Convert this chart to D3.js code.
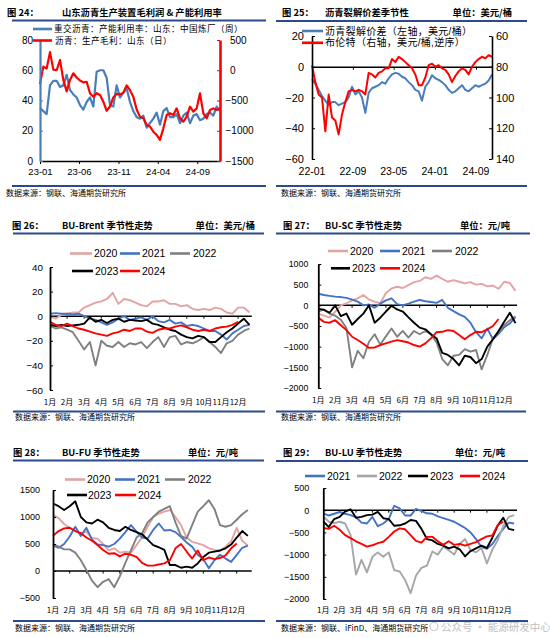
<!DOCTYPE html>
<html><head><meta charset="utf-8">
<script src="https://cdn.jsdelivr.net/npm/d3@7"></script>
<style>body{margin:0;background:#fff;}</style>
</head><body>
<svg id="chart" width="550" height="638"></svg>
<script>
// ---------------- DATA ----------------
const monthLabels = ["1月","2月","3月","4月","5月","6月","7月","8月","9月","10月","11月","12月"];

// Fig 24
const p24DateTicks = ["2023-01","2023-06","2023-11","2024-04","2024-09"];
const p24LeftTicks = [0,20,40,60,80];
const p24RightTicks = [-1500,-1000,-500,0,500];
const p24Util = [35,33,31,50,53,53,49,50,57,47,44,42,37,34,39,42,36,59,60,60,55,37,36,50,42,45,48,39,33,29,28,30,22,25,28,32,24,33,35,29,29,31,25,30,32,25,30,31,27,28,31,32,30,36,33];
const p24Margin = [-230,60,30,300,10,0,170,-160,-350,-160,-50,-120,-170,-200,-190,-380,-440,-380,-410,-520,-670,-600,-450,-390,-400,-370,-250,-330,-440,-650,-770,-795,-905,-930,-1015,-1070,-1150,-960,-740,-712,-740,-630,-795,-850,-767,-602,-685,-630,-382,-712,-795,-657,-630,-657,-630];

// Fig 25
const p25DateTicks = ["2022-01","2022-09","2023-05","2024-01","2024-09"];
const p25LeftTicks = [-60,-40,-20,0,20];
const p25RightTicks = [60,80,100,120,140];
const p25Crack = [-8,-11,-15,-19,-22,-25,-23,-23,-25,-24,-23,-20,-13,-18,-16,-20,-30,-17,-14,-13,-12,-10,-11,-7.5,-5,-4,-4.5,-6.5,-7.5,-10,-12,-15,-16,-22,-13,-10,-5.5,-7.5,-8.5,-10,-12,-15,-17,-16,-14,-12,-15,-16,-14,-12,-13,-12,-11,-9,-5];
const p25Brent = [79,90,98,100,122,98,113,115,124,111,103,96,95,96,95,96,98,84,85,87,84,83,81,81,75,77,73.5,75,77,79,81,85,92,92,87,79,78,80,79,81,82,85,90,86,83,81,82,85,80,77,75,73.5,74.5,72.5,73.5];

// Fig 26 BU-Brent (USD/bbl), one value every 1/3 month
const p26Ticks = [-60,-40,-20,0,20,40];
const p26_2020 = [0,-2,1,2,3,3,7,9,11,12,14,19,10,14,13,11,9,8,12,12,13,10,10,8,9,6,5,6,5,7,6,3,2,7,7,3];
const p26_2021 = [2,2.5,2,2,1.5,2,0,-2,-3,-5,-7,-5,-2,0,-3,-2,-1,-3,0,-4,-5,-3,-6,-5,-8,-7,-8,-10,-12,-12,-15,-19,-14,-11,-8,-7];
const p26_2022 = [-8,-10,-9,-11,-13,-20,-27,-21,-40,-20,-24,-25,-21,-25,-22,-23,-21,-26,-21,-17,-25,-17,-16,-23,-21,-22,-20,-17,-21,-25,-30,-22,-20,-15,-12,-10];
const p26_2023 = [-7,-8,-7,-8,-7.5,-7,-6,-1,-4.5,-3,-5.5,-3,-2,-4.5,-3,-3.5,-4,-3,-6,-7,-9,-11,-12,-15,-17,-18,-16,-17,-21,-21,-17,-13,-10,-6,-2,-7];
const p26_2024 = [-4.5,-7,-8,-6,-8,-10,-11,-12.5,-14,-15,-16,-14,-13,-11,-12,-10,-10,-12.5,-13.5,-11,-10,-10,-8.5,-7.5,-9,-11,-12,-11,-12,-10,-9,-8.5,-7,-4.5];

// Fig 27 BU-SC (CNY/t)
const p27Ticks = [-2000,-1500,-1000,-500,0,500,1000];
const p27_2020 = [-200,-250,-300,-150,0,50,120,170,250,140,90,50,300,410,450,420,490,560,590,680,640,720,640,570,610,570,530,560,500,520,460,480,400,570,540,350];
const p27_2021 = [280,250,230,210,200,180,140,90,0,20,-60,40,120,170,30,0,40,90,130,100,80,60,130,-60,-140,-220,-280,-420,-650,-800,-560,-820,-690,-530,-440,-280];
const p27_2022 = [-150,-100,-200,-250,-350,-550,-1500,-1100,-1280,-880,-700,-950,-750,-560,-760,-620,-780,-620,-700,-620,-700,-900,-1300,-1450,-1220,-1200,-1060,-1120,-1080,-1550,-1200,-800,-640,-480,-360,-270];
const p27_2023 = [-80,-110,-180,0,-260,-200,-470,-330,-200,0,-420,-300,-150,-10,-100,-150,-290,-420,-540,-580,-700,-800,-1150,-1200,-1300,-1450,-1220,-1250,-1400,-1300,-1000,-820,-620,-400,-180,-430];
const p27_2024 = [-300,-400,-420,-360,-480,-600,-760,-840,-930,-1030,-1020,-960,-920,-880,-840,-870,-900,-960,-1000,-920,-800,-650,-640,-600,-620,-720,-820,-720,-640,-650,-580,-500,-330];

// Fig 28 BU-FU (CNY/t)
const p28Ticks = [-500,0,500,1000,1500];
const p28_2020 = [1040,980,870,800,740,690,730,610,600,500,380,420,340,360,340,480,620,820,1000,1060,1100,1130,1000,850,620,540,510,480,420,390,370,450,550,800,560,470];
const p28_2021 = [480,430,500,640,820,650,800,580,490,480,450,500,600,720,850,730,620,600,760,880,750,760,720,630,530,450,300,220,50,200,300,230,170,300,430,470];
const p28_2022 = [500,450,400,400,340,200,20,-180,-300,-200,-150,-300,-100,150,380,620,700,900,1000,1100,1150,1200,900,650,600,850,1100,1200,1310,1150,850,820,850,950,1050,1130];
const p28_2023 = [1250,1200,1130,1200,1290,1000,900,880,950,900,800,760,740,820,760,720,680,580,480,440,390,110,110,60,80,60,140,260,340,360,380,420,490,620,740,650];
const p28_2024 = [650,740,790,800,740,700,620,560,480,390,320,330,270,320,300,260,150,100,100,120,140,200,420,500,360,230,380,200,250,220,240,290,420,510];

// Fig 29 BU-LU (CNY/t)
const p29Ticks = [-2000,-1500,-1000,-500,0,500];
const p29_2021 = [-70,-120,-80,-40,-80,-110,-160,-280,-300,-150,-360,-300,-200,100,40,-120,-120,30,-20,-70,-80,-140,-180,-220,-260,-330,-400,-500,-650,-830,-870,-760,-580,-420,-280,-300];
const p29_2022 = [-140,-260,-290,-260,-300,-560,-1450,-1120,-1400,-1050,-950,-1050,-950,-1350,-1380,-1570,-1870,-1470,-1300,-1250,-930,-1000,-820,-900,-1000,-760,-650,-900,-950,-850,-1200,-890,-670,-360,-150,-110];
const p29_2023 = [-250,-380,-200,-150,-30,20,-170,-150,-110,-100,-40,-180,-200,-350,-340,-300,-220,-240,-420,-650,-680,-760,-800,-860,-820,-880,-1040,-920,-860,-800,-850,-620,-340,-170,-420,-450];
const p29_2024 = [-400,-420,-350,-440,-560,-630,-700,-760,-820,-790,-740,-710,-600,-480,-410,-430,-560,-690,-730,-600,-600,-700,-780,-700,-780,-760,-800,-760,-720,-650,-590,-570,-330,-260];

// ---------------- DRAWING ----------------
const svg = d3.select("#chart");
const RULE = "#2A4A8C";
const CJK = '"Noto Sans CJK SC", sans-serif';
const LAT = '"Liberation Sans", Arial, sans-serif';
const MIX = '"Liberation Sans", "Noto Sans CJK SC", sans-serif';
const COL = {2020:"#E3A3A3", 2021:"#4472C4", 2022:"#808080", 2023:"#000000", 2024:"#FF0000"};
const fmt = d => d < 0 ? "\u2212" + Math.abs(d) : String(d);
const parseM = d3.timeParse("%Y-%m");

function addText(x, y, s, o = {}) {
  const t = svg.append("text").attr("x", x).attr("y", y).text(s)
    .attr("font-family", o.family || CJK).attr("font-size", o.size || 9)
    .attr("fill", o.fill || "#000");
  if (o.weight) t.attr("font-weight", o.weight);
  if (o.anchor) t.attr("text-anchor", o.anchor);
  if (o.ls) t.attr("letter-spacing", o.ls);
  if (o.dy) t.attr("dy", o.dy);
  return t;
}
function rule(x1, x2, y, w = 2) {
  svg.append("line").attr("x1", x1).attr("x2", x2).attr("y1", y).attr("y2", y)
    .attr("stroke", RULE).attr("stroke-width", w);
}
function styleAxis(sel, o = {}) {
  sel.select(".domain").attr("stroke", o.color || "#000").attr("stroke-width", o.width || 1.6);
  sel.selectAll(".tick line").attr("stroke", o.color || "#000").attr("stroke-width", 1);
  sel.selectAll(".tick text").attr("font-family", o.family || LAT).attr("font-size", o.size || 9.5).attr("fill", "#000");
}
function legendItem(x1, x2, y, color, label, tx, size, family, ls) {
  svg.append("line").attr("x1", x1).attr("x2", x2).attr("y1", y).attr("y2", y)
    .attr("stroke", color).attr("stroke-width", 2.6);
  addText(tx, y, label, {size: size, family: family || LAT, dy: "0.36em", ls: ls});
}
function header(numX, titleX, y, num, title, unit, unitEnd) {
  addText(numX, y, num, {size: 9.3, weight: "bold"});
  addText(titleX, y, title, {size: 9.3, weight: "bold"});
  if (unit) addText(unitEnd, y, unit, {size: 9.3, weight: "bold", anchor: "end"});
}
const SRC1 = "数据来源：钢联、海通期货研究所";
const SRC2 = "数据来源：钢联、iFinD、海通期货研究所";

// headers, rules, sources
header(7, 62, 16, "图 24：", "山东沥青生产装置毛利润 & 产能利用率", null, 0);
rule(12, 266, 20.5); rule(12, 266, 186);
addText(6, 196, SRC1, {size: 8});
header(282, 325, 16, "图 25：", "沥青裂解价差季节性", "单位：美元/桶", 512);
rule(276, 527, 21); rule(276, 527, 186);
addText(281, 196, SRC1, {size: 8});

header(12, 62, 229, "图 26：", "BU-Brent 季节性走势", "单位：美元/桶", 255);
rule(13, 264, 233.5); rule(13, 265, 411.5);
addText(15, 420, SRC1, {size: 8});
header(283, 325, 229, "图 27：", "BU-SC 季节性走势", "单位：元/吨", 510);
rule(276, 530, 233.5); rule(276, 526, 411.5);
addText(281, 420, SRC1, {size: 8});

header(13, 62, 456, "图 28：", "BU-FU 季节性走势", "单位：元/吨", 238);
rule(13, 264, 460.5); rule(13, 265, 621);
addText(15, 631, SRC1, {size: 8});
header(283, 325, 456, "图 29：", "BU-LU 季节性走势", "单位：元/吨", 505);
rule(276, 528, 461); rule(276, 528, 621);
addText(281, 631, SRC2, {size: 8});

// ---------- Fig 24 ----------
(function () {
  const t0 = new Date(2023, 0, 1), t1 = new Date(2024, 10, 28);
  const x = d3.scaleTime().domain([t0, t1]).range([40, 220]);
  const yL = d3.scaleLinear().domain([0, 80]).range([161, 40]);
  const yR = d3.scaleLinear().domain([-1500, 500]).range([161, 40]);
  const dateAt = (i, n) => new Date(+t0 + (t1 - t0) * i / (n - 1));
  const g = svg.append("g");
  const bx = g.append("g").attr("transform", "translate(0,161)")
    .call(d3.axisBottom(x).tickValues(p24DateTicks.map(parseM)).tickFormat(d3.timeFormat("%y-%m")).tickSize(3).tickSizeOuter(0).tickPadding(4));
  styleAxis(bx, {width: 1.5, size: 9.5});
  g.append("path").datum(p24Util).attr("fill", "none").attr("stroke", "#4A7EBB").attr("stroke-width", 2.2)
    .attr("stroke-linejoin", "round")
    .attr("d", d3.line().x((d, i) => x(dateAt(i, p24Util.length))).y(d => yL(d)));
  g.append("path").datum(p24Margin).attr("fill", "none").attr("stroke", "#FF0000").attr("stroke-width", 2.2)
    .attr("stroke-linejoin", "round")
    .attr("d", d3.line().x((d, i) => x(dateAt(i, p24Margin.length))).y(d => yR(d)));
  const la = g.append("g").attr("transform", "translate(40,0)")
    .call(d3.axisLeft(yL).tickValues(p24LeftTicks).tickSize(-3).tickSizeOuter(0).tickPadding(7));
  styleAxis(la, {color: "#4A7EBB", width: 2.2, size: 10});
  const ra = g.append("g").attr("transform", "translate(220,0)")
    .call(d3.axisRight(yR).tickValues(p24RightTicks).tickFormat(fmt).tickSize(-3).tickSizeOuter(0).tickPadding(10));
  styleAxis(ra, {color: "#FF0000", width: 2.6, size: 10});
  ra.selectAll(".tick text").attr("x", d => d < 0 ? 5.5 : 10);
  legendItem(33, 52, 29, "#4A7EBB", "重交沥青：产能利用率：山东：中国炼厂（周）", 54, 8.6, MIX, 0.4);
  legendItem(33, 52, 40.5, "#FF0000", "沥青：生产毛利：山东（日）", 55, 8.6, MIX, 0.4);
})();

// ---------- Fig 25 ----------
(function () {
  const t0 = new Date(2022, 0, 1), t1 = new Date(2024, 11, 5);
  const x = d3.scaleTime().domain([t0, t1]).range([312, 492]);
  const yL = d3.scaleLinear().domain([-60, 20]).range([159, 36]);
  const yR = d3.scaleLinear().domain([60, 140]).range([36, 159]);
  const dateAt = (i, n) => new Date(+t0 + (t1 - t0) * i / (n - 1));
  const g = svg.append("g");
  const za = g.append("g").attr("transform", `translate(0,${yL(0)})`)
    .call(d3.axisBottom(x).tickValues(p25DateTicks.map(parseM)).tickFormat("").tickSize(3).tickSizeOuter(0));
  styleAxis(za, {width: 1.5});
  g.selectAll(".xl").data(p25DateTicks.map(parseM)).join("text")
    .attr("x", d => x(d)).attr("y", 175).attr("text-anchor", "middle")
    .attr("font-family", LAT).attr("font-size", 10.5).text(d3.timeFormat("%y-%m"));
  g.append("path").datum(p25Crack).attr("fill", "none").attr("stroke", "#4A7EBB").attr("stroke-width", 2)
    .attr("stroke-linejoin", "round")
    .attr("d", d3.line().x((d, i) => x(dateAt(i, p25Crack.length))).y(d => yL(d)));
  g.append("path").datum(p25Brent).attr("fill", "none").attr("stroke", "#FF0000").attr("stroke-width", 2)
    .attr("stroke-linejoin", "round")
    .attr("d", d3.line().x((d, i) => x(dateAt(i, p25Brent.length))).y(d => yR(d)));
  const la = g.append("g").attr("transform", "translate(312,0)")
    .call(d3.axisLeft(yL).tickValues(p25LeftTicks).tickFormat(fmt).tickSize(-3).tickSizeOuter(0).tickPadding(8));
  styleAxis(la, {width: 1.6, size: 11});
  const ra = g.append("g").attr("transform", "translate(492,0)")
    .call(d3.axisRight(yR).tickValues(p25RightTicks).tickSize(-3).tickSizeOuter(0).tickPadding(4));
  styleAxis(ra, {width: 1.6, size: 11});
  legendItem(302, 323, 31, "#4A7EBB", "沥青裂解价差（左轴，美元/桶）", 325, 10, MIX, 0.3);
  legendItem(302, 323, 42.8, "#FF0000", "布伦特（右轴，美元/桶,逆序）", 325, 10, MIX, 0.3);
})();

// ---------- Seasonal panels ----------
function seasonal(c) {
  const g = svg.append("g");
  const x = d3.scaleLinear().domain([0, 12]).range([c.x0, c.x0 + 12 * c.mpx]);
  const y = d3.scaleLinear().domain(c.yDomain).range([c.yBottom, c.yTop]);
  g.append("line").attr("x1", x(0)).attr("x2", x(c.zeroEnd)).attr("y1", y(0)).attr("y2", y(0))
    .attr("stroke", "#000").attr("stroke-width", 1.5);
  g.selectAll(".mt").data(d3.range(1, 12)).join("line")
    .attr("x1", d => x(d)).attr("x2", d => x(d)).attr("y1", y(0)).attr("y2", y(0) + 2.5)
    .attr("stroke", "#000").attr("stroke-width", 1);
  c.series.forEach(s => {
    g.append("path").datum(s.values).attr("fill", "none").attr("stroke", s.color)
      .attr("stroke-width", 1.9).attr("stroke-linejoin", "round")
      .attr("d", d3.line().x((d, i) => x(i / 3)).y(d => y(d)));
  });
  const ax = g.append("g").attr("transform", `translate(${c.x0},0)`)
    .call(d3.axisLeft(y).tickValues(c.yTicks).tickFormat(fmt).tickSize(-3).tickSizeOuter(0).tickPadding(c.pad));
  styleAxis(ax, {width: 1.8, size: c.ySize});
  g.selectAll(".ml").data(monthLabels).join("text")
    .attr("x", (d, i) => x(i)).attr("y", c.xLabelY).attr("text-anchor", "middle")
    .attr("font-family", CJK).attr("font-size", 8).text(d => d);
  c.legend.forEach(l => {
    const s = c.series.find(s => s.name === l.name);
    legendItem(l.x1, l.x2, l.y, s.color, l.name, l.tx, 10.5, LAT);
  });
}

seasonal({
  x0: 50, mpx: 17.1, yTop: 267, yBottom: 390, yDomain: [-60, 40], yTicks: p26Ticks,
  pad: 7, ySize: 9.8, xLabelY: 405, zeroEnd: 11.8,
  series: [
    {name: "2020", color: COL[2020], values: p26_2020},
    {name: "2021", color: COL[2021], values: p26_2021},
    {name: "2022", color: COL[2022], values: p26_2022},
    {name: "2023", color: COL[2023], values: p26_2023},
    {name: "2024", color: COL[2024], values: p26_2024}],
  legend: [
    {name: "2020", x1: 70, x2: 92, y: 253.5, tx: 94},
    {name: "2021", x1: 120, x2: 140, y: 253.5, tx: 142},
    {name: "2022", x1: 170, x2: 190, y: 253.5, tx: 193},
    {name: "2023", x1: 72, x2: 93, y: 271, tx: 95},
    {name: "2024", x1: 120, x2: 140, y: 271, tx: 142}]
});

seasonal({
  x0: 318.3, mpx: 16.9, yTop: 264, yBottom: 388, yDomain: [-2000, 1000], yTicks: p27Ticks,
  pad: 10, ySize: 8.8, xLabelY: 403, zeroEnd: 11.76,
  series: [
    {name: "2020", color: COL[2020], values: p27_2020},
    {name: "2021", color: COL[2021], values: p27_2021},
    {name: "2022", color: COL[2022], values: p27_2022},
    {name: "2023", color: COL[2023], values: p27_2023},
    {name: "2024", color: COL[2024], values: p27_2024}],
  legend: [
    {name: "2020", x1: 328, x2: 348, y: 251, tx: 350},
    {name: "2021", x1: 380, x2: 400, y: 251, tx: 402},
    {name: "2022", x1: 432, x2: 452, y: 251, tx: 455},
    {name: "2023", x1: 331, x2: 350, y: 268.3, tx: 352},
    {name: "2024", x1: 380, x2: 400, y: 268.3, tx: 402}]
});

seasonal({
  x0: 53, mpx: 16.7, yTop: 490, yBottom: 598, yDomain: [-500, 1500], yTicks: p28Ticks,
  pad: 13, ySize: 9, xLabelY: 613, zeroEnd: 11.9,
  series: [
    {name: "2020", color: COL[2020], values: p28_2020},
    {name: "2021", color: COL[2021], values: p28_2021},
    {name: "2022", color: COL[2022], values: p28_2022},
    {name: "2023", color: COL[2023], values: p28_2023},
    {name: "2024", color: COL[2024], values: p28_2024}],
  legend: [
    {name: "2020", x1: 65, x2: 85, y: 479.5, tx: 87},
    {name: "2021", x1: 115, x2: 135, y: 479.5, tx: 137},
    {name: "2022", x1: 165, x2: 185, y: 479.5, tx: 188},
    {name: "2023", x1: 67, x2: 87, y: 495, tx: 88},
    {name: "2024", x1: 115, x2: 136, y: 495, tx: 138}]
});

seasonal({
  x0: 323.3, mpx: 16.36, yTop: 488, yBottom: 599, yDomain: [-2000, 500], yTicks: p29Ticks,
  pad: 14, ySize: 9, xLabelY: 613, zeroEnd: 11.84,
  series: [
    {name: "2021", color: COL[2021], values: p29_2021},
    {name: "2022", color: "#A6A6A6", values: p29_2022},
    {name: "2023", color: COL[2023], values: p29_2023},
    {name: "2024", color: COL[2024], values: p29_2024}],
  legend: [
    {name: "2021", x1: 305, x2: 325, y: 476, tx: 327},
    {name: "2022", x1: 357, x2: 377, y: 476, tx: 379},
    {name: "2023", x1: 408, x2: 428, y: 476, tx: 430},
    {name: "2024", x1: 460, x2: 480, y: 476, tx: 482}]
});

// watermark (moved clear of the month labels)
svg.append("circle").attr("cx", 434).attr("cy", 626.5).attr("r", 4).attr("fill", "none")
  .attr("stroke", "#c8c8c8").attr("stroke-width", 1.1);
addText(441, 630.5, "公众号 · 能源研发中心", {size: 10.5, fill: "#c0c0c0"});
</script>
</body></html>
